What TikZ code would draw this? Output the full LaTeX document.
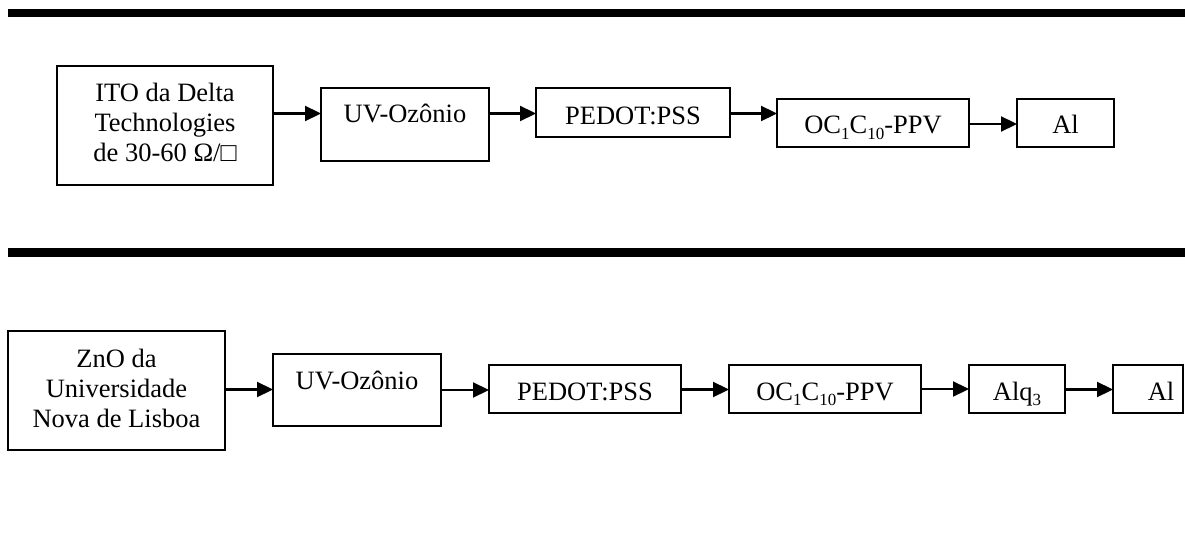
\documentclass[tikz,border=0pt]{standalone}
\usepackage{fontspec}
\setmainfont{Liberation Serif}
\usetikzlibrary{arrows.meta}
% lowered, smaller chemical subscripts
\newcommand\subtxt[1]{\raisebox{-0.22em}{\fontsize{17}{17}\selectfont #1}}
\begin{document}
\begin{tikzpicture}[x=1pt,y=-1pt,
  box/.style={draw,line width=2.2pt,inner sep=0pt,outer sep=0pt,rectangle},
  sz/.style 2 args={minimum width=#1pt,minimum height=#2pt},
  lbl/.style={anchor=base,inner sep=0pt,font=\fontsize{26.5}{30}\selectfont},
  multi/.style={align=center,inner sep=0pt,font=\fontsize{26.5}{30}\selectfont},
  arr/.style={line width=2.2pt,-{Triangle[length=16pt,width=15pt]}},
  bar/.style={fill=black}]

\useasboundingbox (0,0) rectangle (1185,537);
\clip (0,0) rectangle (1185,537);

% separator bars
\fill[bar] (8,9.5) rectangle (1185,17);
\fill[bar] (8,248) rectangle (1185,257);

% ---- first process chain ----
\node[box,sz={216}{119}] (ito) at (165,125.5) {};
\node[multi] (itot) at (165,122) {ITO da Delta\\Technologies\\de 30-60 Ω/□};

\node[box,sz={168}{73}] (uva) at (405,124.5) {};
\node[lbl] (uvat) at (405,123) {UV-Ozônio};

\node[box,sz={194}{49}] (peda) at (633,112.5) {};
\node[lbl] (pedat) at (633,125) {PEDOT:PSS};

\node[box,sz={192}{48}] (oca) at (873,123) {};
\node[lbl] (ocat) at (873,134) {OC\subtxt{1}C\subtxt{10}-PPV};

\node[box,sz={97}{48}] (ala) at (1065.5,123) {};
\node[lbl] (alat) at (1065.5,134) {Al};

\draw[arr] (ito.east |- 0,113.5) -- (uva.west |- 0,113.5);
\draw[arr] (uva.east |- 0,113.5) -- (peda.west |- 0,113.5);
\draw[arr] (peda.east |- 0,113.5) -- (oca.west |- 0,113.5);
\draw[arr] (oca.east |- 0,124) -- (ala.west |- 0,124);

% ---- second process chain ----
\node[box,sz={217}{119}] (zno) at (116.5,390.5) {};
\node[multi] (znot) at (116.5,388) {ZnO da\\Universidade\\Nova de Lisboa};

\node[box,sz={168}{72}] (uvb) at (357,390) {};
\node[lbl] (uvbt) at (357,389) {UV-Ozônio};

\node[box,sz={192}{48}] (pedb) at (585,389) {};
\node[lbl] (pedbt) at (585,400) {PEDOT:PSS};

\node[box,sz={192}{48}] (ocb) at (825,389) {};
\node[lbl] (ocbt) at (825,400) {OC\subtxt{1}C\subtxt{10}-PPV};

\node[box,sz={96}{48}] (alq) at (1017,389) {};
\node[lbl] (alqt) at (1017,400) {Alq\subtxt{3}};

% last cell runs up to the right edge
\node[box,sz={70}{48}] (alb) at (1148,389) {};
\node[lbl] (albt) at (1161,400) {Al};

\draw[arr] (zno.east |- 0,389.5) -- (uvb.west |- 0,389.5);
\draw[arr] (uvb.east |- 0,390) -- (pedb.west |- 0,390);
\draw[arr] (pedb.east |- 0,389.5) -- (ocb.west |- 0,389.5);
\draw[arr] (ocb.east |- 0,389) -- (alq.west |- 0,389);
\draw[arr] (alq.east |- 0,389.5) -- (alb.west |- 0,389.5);
\end{tikzpicture}
\end{document}
